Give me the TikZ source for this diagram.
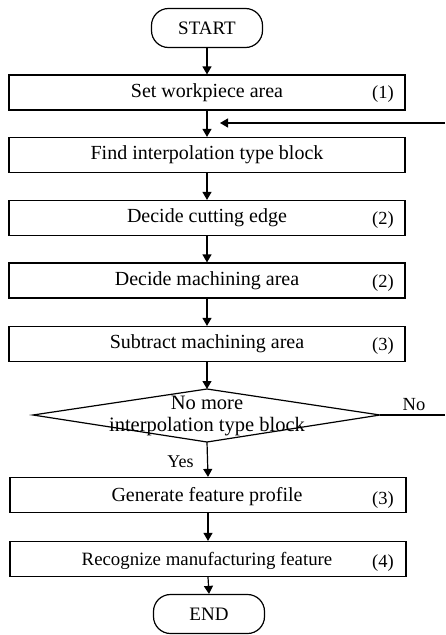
\documentclass[tikz,border=0pt]{standalone}
\usepackage{fontspec}
\setmainfont{Liberation Serif}
\usetikzlibrary{arrows.meta}
\begin{document}
\begin{tikzpicture}[x=1pt,y=-1pt,
  every node/.style={font=\fontsize{20}{23}\selectfont},
  line/.style={line width=1.2pt},
  flow/.style={line, -{Triangle[width=9pt,length=8pt]}},
  procbox/.style={draw, line width=1.2pt, minimum width=396pt, minimum height=35pt, inner sep=0pt},
  term/.style={draw, line width=1.2pt, rounded corners=17pt, minimum width=111pt, minimum height=39pt, inner sep=0pt,
    font=\fontsize{19}{22}\selectfont},
  tag/.style={font=\fontsize{18.5}{21}\selectfont}]
\useasboundingbox (0,0) rectangle (445,635);

% terminals
\node[term] (start) at (207,28) {START};
\node[term] (end) at (209,614) {END};

% process boxes
\node[procbox] (b1) at (207,92.5) {};
\node at (207,93) {Set workpiece area};
\node[tag] at (383,94) {(1)};

\node[procbox] (b2) at (207,155) {};
\node at (207,155) {Find interpolation type block};

\node[procbox] (b3) at (207,218) {};
\node at (207,218) {Decide cutting edge};
\node[tag] at (383,220) {(2)};

\node[procbox] (b4) at (207,280.5) {};
\node at (207,281) {Decide machining area};
\node[tag] at (383,283) {(2)};

\node[procbox] (b5) at (207,344) {};
\node at (207,344) {Subtract machining area};
\node[tag] at (383,346) {(3)};

% decision
\coordinate (dt) at (207,389);
\coordinate (dr) at (380,415);
\coordinate (db) at (207,442);
\coordinate (dl) at (33,415);
\draw[line] (dt) -- (dr) -- (db) -- (dl) -- cycle;
\node[font=\fontsize{20.5}{23}\selectfont] (q1) at (207,403) {No more};
\node[font=\fontsize{20.5}{23}\selectfont] (q2) at (207,427) {interpolation type block};

\node[procbox] (b6) at (208,495) {};
\node at (207,497) {Generate feature profile};
\node[tag] at (383,500) {(3)};

\node[procbox] (b7) at (208,559) {};
\node[font=\fontsize{18.8}{22}\selectfont] at (207,561) {Recognize manufacturing feature};
\node[tag] at (383,563) {(4)};

% connectors
\draw[flow] (start.south) -- (b1.north);
\draw[flow] (b1.south) -- (b2.north);
\draw[flow] (b2.south) -- (b3.north);
\draw[flow] (b3.south) -- (b4.north);
\draw[flow] (b4.south) -- (b5.north);
\draw[flow] (b5.south) -- (dt);
\draw[flow] (db) -- node[left=10pt, pos=0.55, font=\fontsize{18}{21}\selectfont] {Yes} (b6.north);
\draw[flow] (b6.south) -- (b7.north);
\draw[flow] (b7.south) -- (end.north);

% loop back
\coordinate (noend) at (445,415);
\coordinate (loopin) at (445,123);
\coordinate (loophead) at (220,123);
\draw[line] (dr) -- (noend);
\node[font=\fontsize{18.5}{21}\selectfont] at (414,405) {No};
\draw[flow] (loopin) -- (loophead);
\end{tikzpicture}
\end{document}
